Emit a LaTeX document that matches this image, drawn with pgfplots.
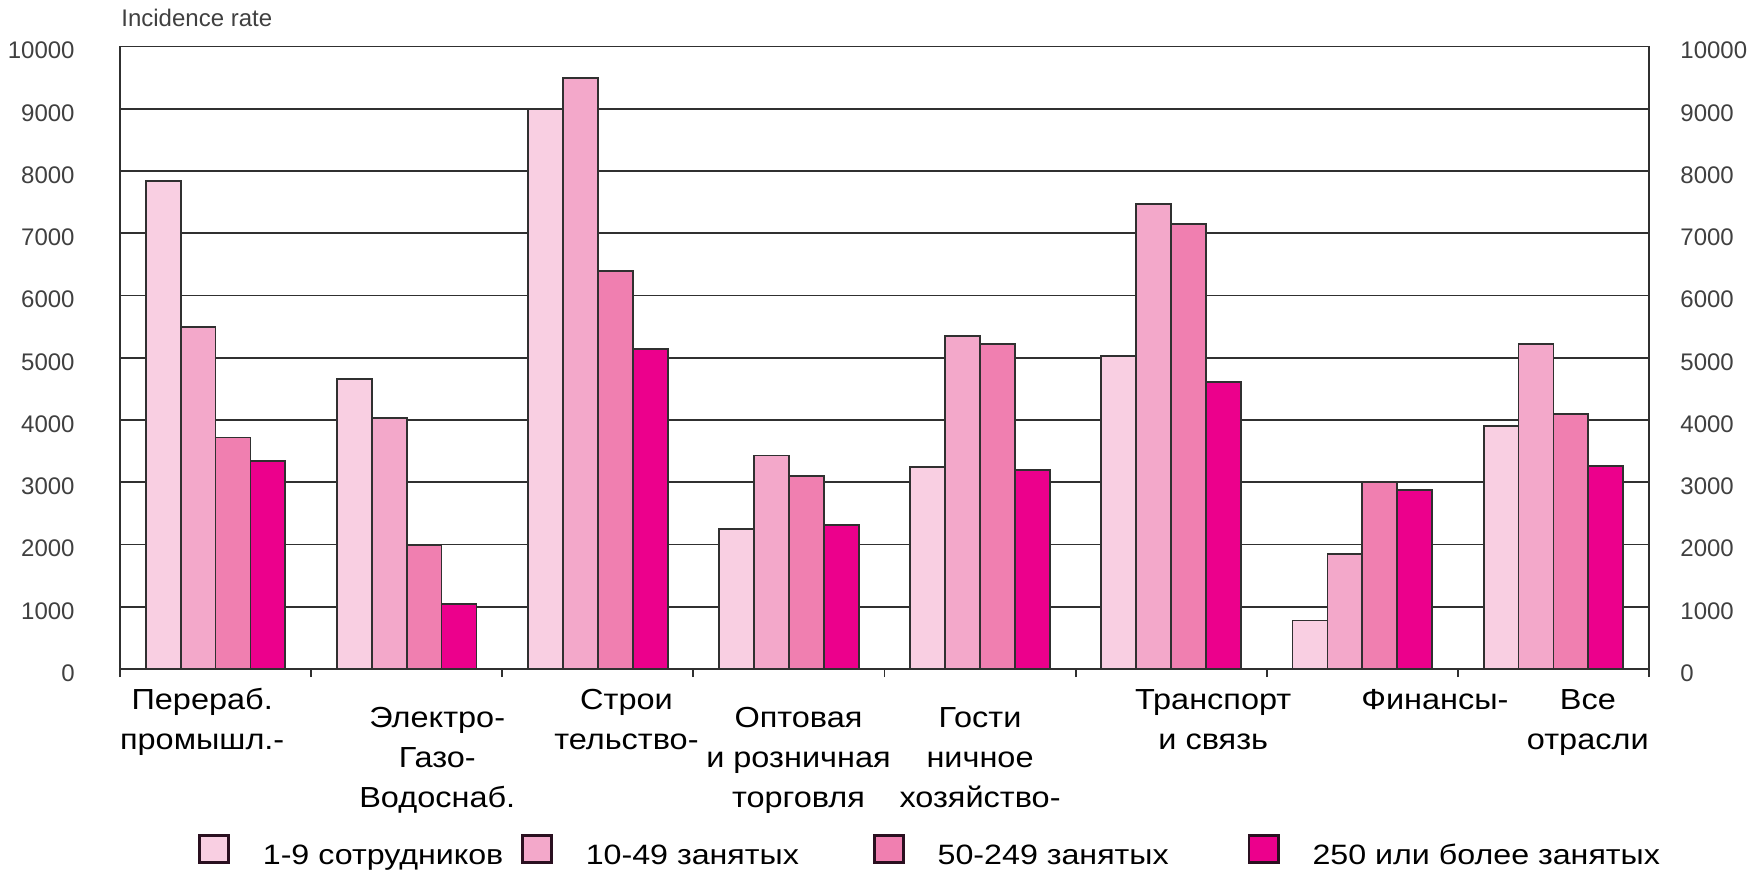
\documentclass[border=0pt]{standalone}
\usepackage{fontspec}
\setmainfont{Liberation Sans}
\newfontfamily\catfont{Liberation Sans}[FakeStretch=1.12]
\newfontfamily\legfont{Liberation Sans}[FakeStretch=1.15]
\usepackage{pgfplots}
\pgfplotsset{compat=1.18}
\definecolor{cA}{HTML}{F9CFE2}
\definecolor{cB}{HTML}{F3A8CA}
\definecolor{cC}{HTML}{F07FB0}
\definecolor{cD}{HTML}{EC008C}
\definecolor{gridc}{HTML}{303030}
\definecolor{tickc}{HTML}{404040}
\definecolor{legc}{HTML}{2A1020}
\begin{document}
\begin{tikzpicture}
\begin{axis}[
  at={(0,0)}, anchor=south west,
  width=764.5pt, height=311.25pt, scale only axis,
  xmin=-0.5, xmax=7.5, ymin=0, ymax=10000,
  ybar=0pt, bar width=17.45pt,
  ytick={0,1000,...,10000},
  scaled y ticks=false,
  xtick={-0.07,1.16,2.15,3.05,4.0,5.22,6.38,7.18},
  xticklabels={
    {\rule{0pt}{20pt}Перераб.\\промышл.-},
    {\rule{0pt}{28.9pt}Электро-\\Газо-\\Водоснаб.},
    {\rule{0pt}{20pt}Строи\\тельство-},
    {\rule{0pt}{28.9pt}Оптовая\\и розничная\\торговля},
    {\rule{0pt}{28.9pt}Гости\\ничное\\хозяйство-},
    {\rule{0pt}{20pt}Транспорт\\и связь},
    {\rule{0pt}{20pt}Финансы-},
    {\rule{0pt}{20pt}Все\\отрасли}},
  minor xtick={-0.5,0.5,...,7.5},
  major tick length=0pt, minor tick length=4pt,
  tick align=outside, xtick pos=bottom, ytick pos=left,
  ymajorgrids, grid style={gridc, line width=0.95pt},
  axis line style={gridc, line width=0.95pt},
  minor tick style={gridc, line width=0.9pt},
  /pgf/number format/assume math mode=true,
  /pgf/number format/1000 sep={},
  yticklabel style={font=\fontsize{12}{14}\selectfont, text=tickc, anchor=east, inner sep=0pt, xshift=-22.5pt, yshift=-2pt},
  xticklabel style={font=\catfont\fontsize{14.5}{20}\selectfont, align=center, anchor=north, inner sep=0pt},
  every axis plot/.append style={draw=gridc, line width=0.9pt},
  legend columns=4,
  legend cell align=left,
  legend image code/.code={\draw[#1, draw=legc, line width=1.4pt] (0.7pt,-3pt) rectangle (15.3pt,10.5pt); \path (26pt,0pt);},
  legend style={at={(0.051,-0.292)}, anchor=west, draw=none, fill=none, inner sep=0pt, outer sep=0pt,
    column sep=0pt, nodes={inner sep=0pt, font=\legfont\fontsize{14}{16}\selectfont}},
]
\addplot[fill=cA] coordinates {(0,7845) (1,4660) (2,9000) (3,2250) (4,3240) (5,5030) (6,780) (7,3900)};
\addplot[fill=cB] coordinates {(0,5500) (1,4035) (2,9490) (3,3430) (4,5350) (5,7470) (6,1850) (7,5225)};
\addplot[fill=cC] coordinates {(0,3720) (1,1985) (2,6390) (3,3095) (4,5215) (5,7145) (6,3003) (7,4100)};
\addplot[fill=cD] coordinates {(0,3345) (1,1045) (2,5135) (3,2310) (4,3200) (5,4610) (6,2870) (7,3255)};
\addlegendentry{\hspace{6pt}\makebox[129pt][l]{1-9 сотрудников}}
\addlegendentry{\hspace{6pt}\makebox[143.5pt][l]{10-49 занятых}}
\addlegendentry{\hspace{6pt}\makebox[155pt][l]{50-249 занятых}}
\addlegendentry{\hspace{6pt}250 или более занятых}
\end{axis}
\begin{axis}[
  at={(0,0)}, anchor=south west,
  width=764.5pt, height=311.25pt, scale only axis,
  xmin=0, xmax=1, ymin=0, ymax=10000,
  hide x axis, axis y line*=right, y axis line style={draw=none},
  ytick={0,1000,...,10000}, major tick length=0pt,
  scaled y ticks=false,
  /pgf/number format/assume math mode=true,
  /pgf/number format/1000 sep={},
  yticklabel style={font=\fontsize{12}{14}\selectfont, text=tickc, anchor=west, inner sep=0pt, xshift=15.5pt, yshift=-2pt},
]
\end{axis}
\node[anchor=base west, font=\fontsize{12}{14}\selectfont, text=tickc, inner sep=0pt] at (0.5pt,321pt) {Incidence rate};
\pgfresetboundingbox
\path[use as bounding box] (-60pt,-103pt) rectangle (820.5pt,334.5pt);
\end{tikzpicture}
\end{document}
